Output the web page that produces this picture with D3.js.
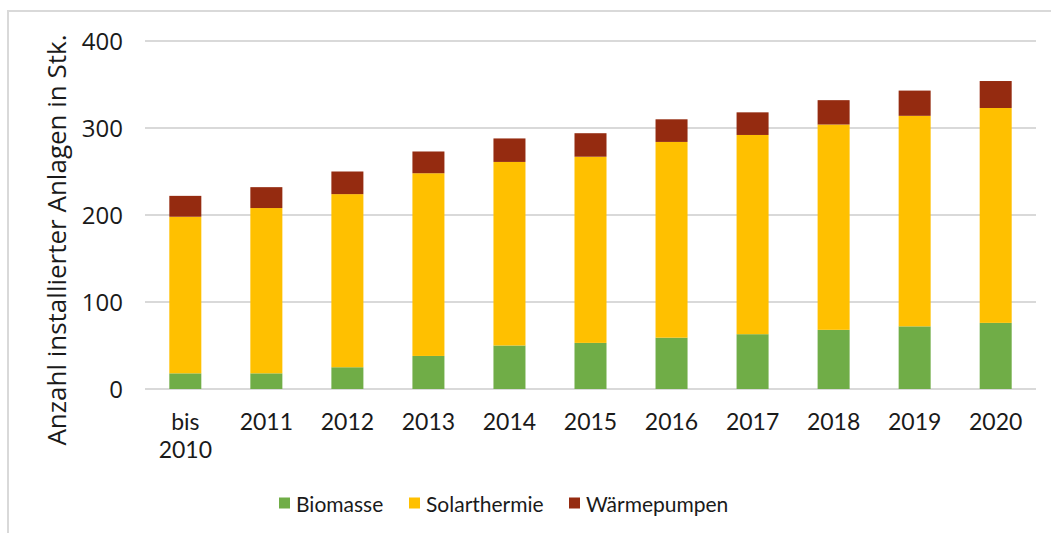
<!DOCTYPE html>
<html>
<head>
<meta charset="utf-8">
<script src="https://cdn.jsdelivr.net/npm/d3@7"></script>
<style>
  html, body { margin: 0; padding: 0; background: #fff; }
  svg { display: block; }
</style>
</head>
<body>
<svg id="chart" width="1051" height="533"></svg>
<script>
const categories = ["bis\n2010", "2011", "2012", "2013", "2014", "2015", "2016", "2017", "2018", "2019", "2020"];
const biomasse     = [18, 18, 25, 38, 50, 53, 59, 63, 68, 72, 76];
const solarthermie = [180, 190, 199, 210, 211, 214, 225, 229, 236, 242, 247];
const waermepumpen = [24, 24, 26, 25, 27, 27, 26, 26, 28, 29, 31];
const seriesNames  = ["Biomasse", "Solarthermie", "Wärmepumpen"];
const seriesColors = ["#70ad47", "#ffc000", "#952b10"];
const yTicks = [0, 100, 200, 300, 400];
const yTitle = "Anzahl installierter Anlagen in Stk.";

const svg = d3.select("#chart");

// outer frame (cut off at right/bottom like reference)
svg.append("rect")
  .attr("x", 8).attr("y", 11).attr("width", 1100).attr("height", 600)
  .attr("fill", "none").attr("stroke", "#d9d9d9").attr("stroke-width", 2);

const x = d3.scaleBand().domain(categories).range([145, 1036]).paddingInner(0.605).paddingOuter(0.3);
const y = d3.scaleLinear().domain([0, 400]).range([389, 41]);

// gridlines
svg.append("g").selectAll("line").data(yTicks).join("line")
  .attr("x1", 145).attr("x2", 1036)
  .attr("y1", d => y(d)).attr("y2", d => y(d))
  .attr("stroke", "#d9d9d9").attr("stroke-width", 2);

// stacked data
const table = categories.map((c, i) => ({
  cat: c, Biomasse: biomasse[i], Solarthermie: solarthermie[i], "Wärmepumpen": waermepumpen[i]
}));
const stacked = d3.stack().keys(seriesNames)(table);

svg.append("g").selectAll("g").data(stacked).join("g")
  .attr("fill", (d, i) => seriesColors[i])
  .selectAll("rect").data(d => d).join("rect")
  .attr("x", d => x(d.data.cat))
  .attr("width", x.bandwidth())
  .attr("y", d => y(d[1]))
  .attr("height", d => y(d[0]) - y(d[1]));

// y axis labels
const yAxis = d3.axisLeft(y).tickValues(yTicks).tickSize(0).tickPadding(0);
const yg = svg.append("g").attr("transform", "translate(123,0)").call(yAxis);
yg.select(".domain").remove();
yg.selectAll("text")
  .attr("font-family", "'Open Sans', sans-serif")
  .attr("font-size", 24)
  .attr("fill", "#1a1a1a")
  .attr("dy", "0.36em");

// x axis labels
const xAxis = d3.axisBottom(x).tickSize(0).tickFormat("");
const xg = svg.append("g").attr("transform", "translate(0,389)").call(xAxis);
xg.select(".domain").remove();
xg.selectAll(".tick").each(function(d) {
  const lines = d.split("\n");
  const t = d3.select(this).append("text")
    .attr("font-family", "Lato, sans-serif")
    .attr("font-size", 23)
    .attr("fill", "#1a1a1a")
    .attr("text-anchor", "middle");
  lines.forEach((ln, k) => {
    t.append("tspan").attr("x", 0).attr("y", 41 + k * 28).text(ln);
  });
});

// y title
svg.append("text")
  .attr("transform", "translate(66,240) rotate(-90)")
  .attr("text-anchor", "middle")
  .attr("font-family", "'Open Sans', sans-serif")
  .attr("font-size", 26)
  .attr("fill", "#1a1a1a")
  .text(yTitle);

// legend
const legendX = [279, 409, 569];
const lg = svg.append("g");
seriesNames.forEach((name, i) => {
  lg.append("rect")
    .attr("x", legendX[i]).attr("y", 497.5).attr("width", 11).attr("height", 11)
    .attr("fill", seriesColors[i]);
  lg.append("text")
    .attr("x", legendX[i] + 17).attr("y", 511.5)
    .attr("font-family", "Lato, sans-serif")
    .attr("font-size", 21)
    .attr("fill", "#1a1a1a")
    .text(name);
});
</script>
</body>
</html>
